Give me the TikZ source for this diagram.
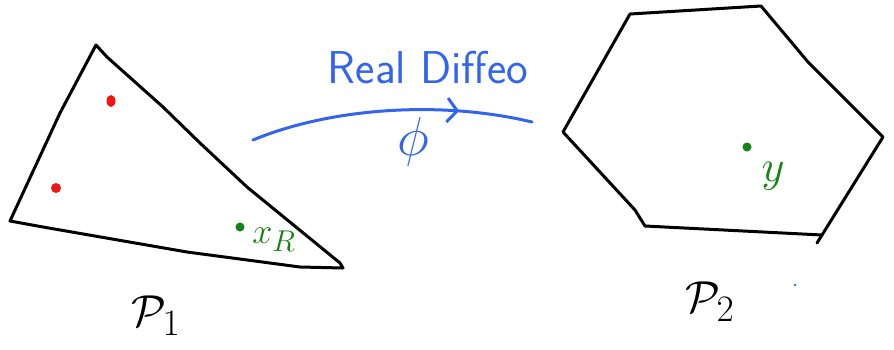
\documentclass[tikz,border=0pt]{standalone}
\usetikzlibrary{arrows.meta,decorations.markings}
\definecolor{penblue}{RGB}{50,100,240}
\definecolor{pengreen}{RGB}{20,130,20}
\definecolor{penred}{RGB}{240,20,20}
\begin{document}
\begin{tikzpicture}[x=1pt,y=-1pt,
  ink/.style={line width=3pt,black,line join=round,line cap=round},
  blueink/.style={line width=3pt,penblue,line cap=round},
  reddot/.style={fill=penred,draw=none},
  greendot/.style={fill=pengreen,draw=none},
  lbl/.style={inner sep=0pt,font=\Huge}]
\useasboundingbox (0,0) rectangle (894,349);
% triangle P1
\draw[ink] (96,45) -- (107,57) -- (163,107) -- (200,143) -- (247,187) -- (340,263)
  -- (343,268) -- (300,267) -- (187,252) -- (43,227) -- (10,221) -- (60,113) -- cycle;
\fill[reddot] (111,101) ellipse (4.5pt and 6pt);
\fill[reddot] (56,188) ellipse (5pt and 5pt);
\fill[greendot] (240,227) circle (4.5pt);
\node[lbl,anchor=west,text=pengreen,scale=1.45] (xr) at (252,240) {$x_R$};
% hexagon P2
\draw[ink] (630,14) -- (761,6) -- (808,62) -- (883,137) -- (822,235) -- (645,226)
  -- (635,210) -- (563,132) -- cycle;
\draw[ink] (822,235) -- (817,243);
\fill[greendot] (747,147) circle (4.5pt);
\node[lbl,text=pengreen,scale=1.8] (yl) at (773,176) {$y$};
\fill[penblue] (795,285) circle (1.4pt);
% arrow phi
\coordinate (s) at (253,140);
\coordinate (e) at (532,122);
\draw[blueink,postaction={decorate},decoration={markings,
   mark=at position 0.74 with {\arrow{Straight Barb[length=10pt,width=24pt,line width=3pt]}}}]
  (s) .. controls (330,108) and (440,100) .. (e);
\node[lbl,text=penblue,scale=1.85] (rd) at (428,68) {\sffamily Real Diffeo};
\node[lbl,text=penblue,scale=2.2] (phi) at (413,142) {$\phi$};
% labels
\node[lbl,scale=1.8] (p1) at (156,316) {$\mathcal{P}_{1}$};
\node[lbl,scale=1.8] (p2) at (710,302) {$\mathcal{P}_{2}$};
\end{tikzpicture}
\end{document}
